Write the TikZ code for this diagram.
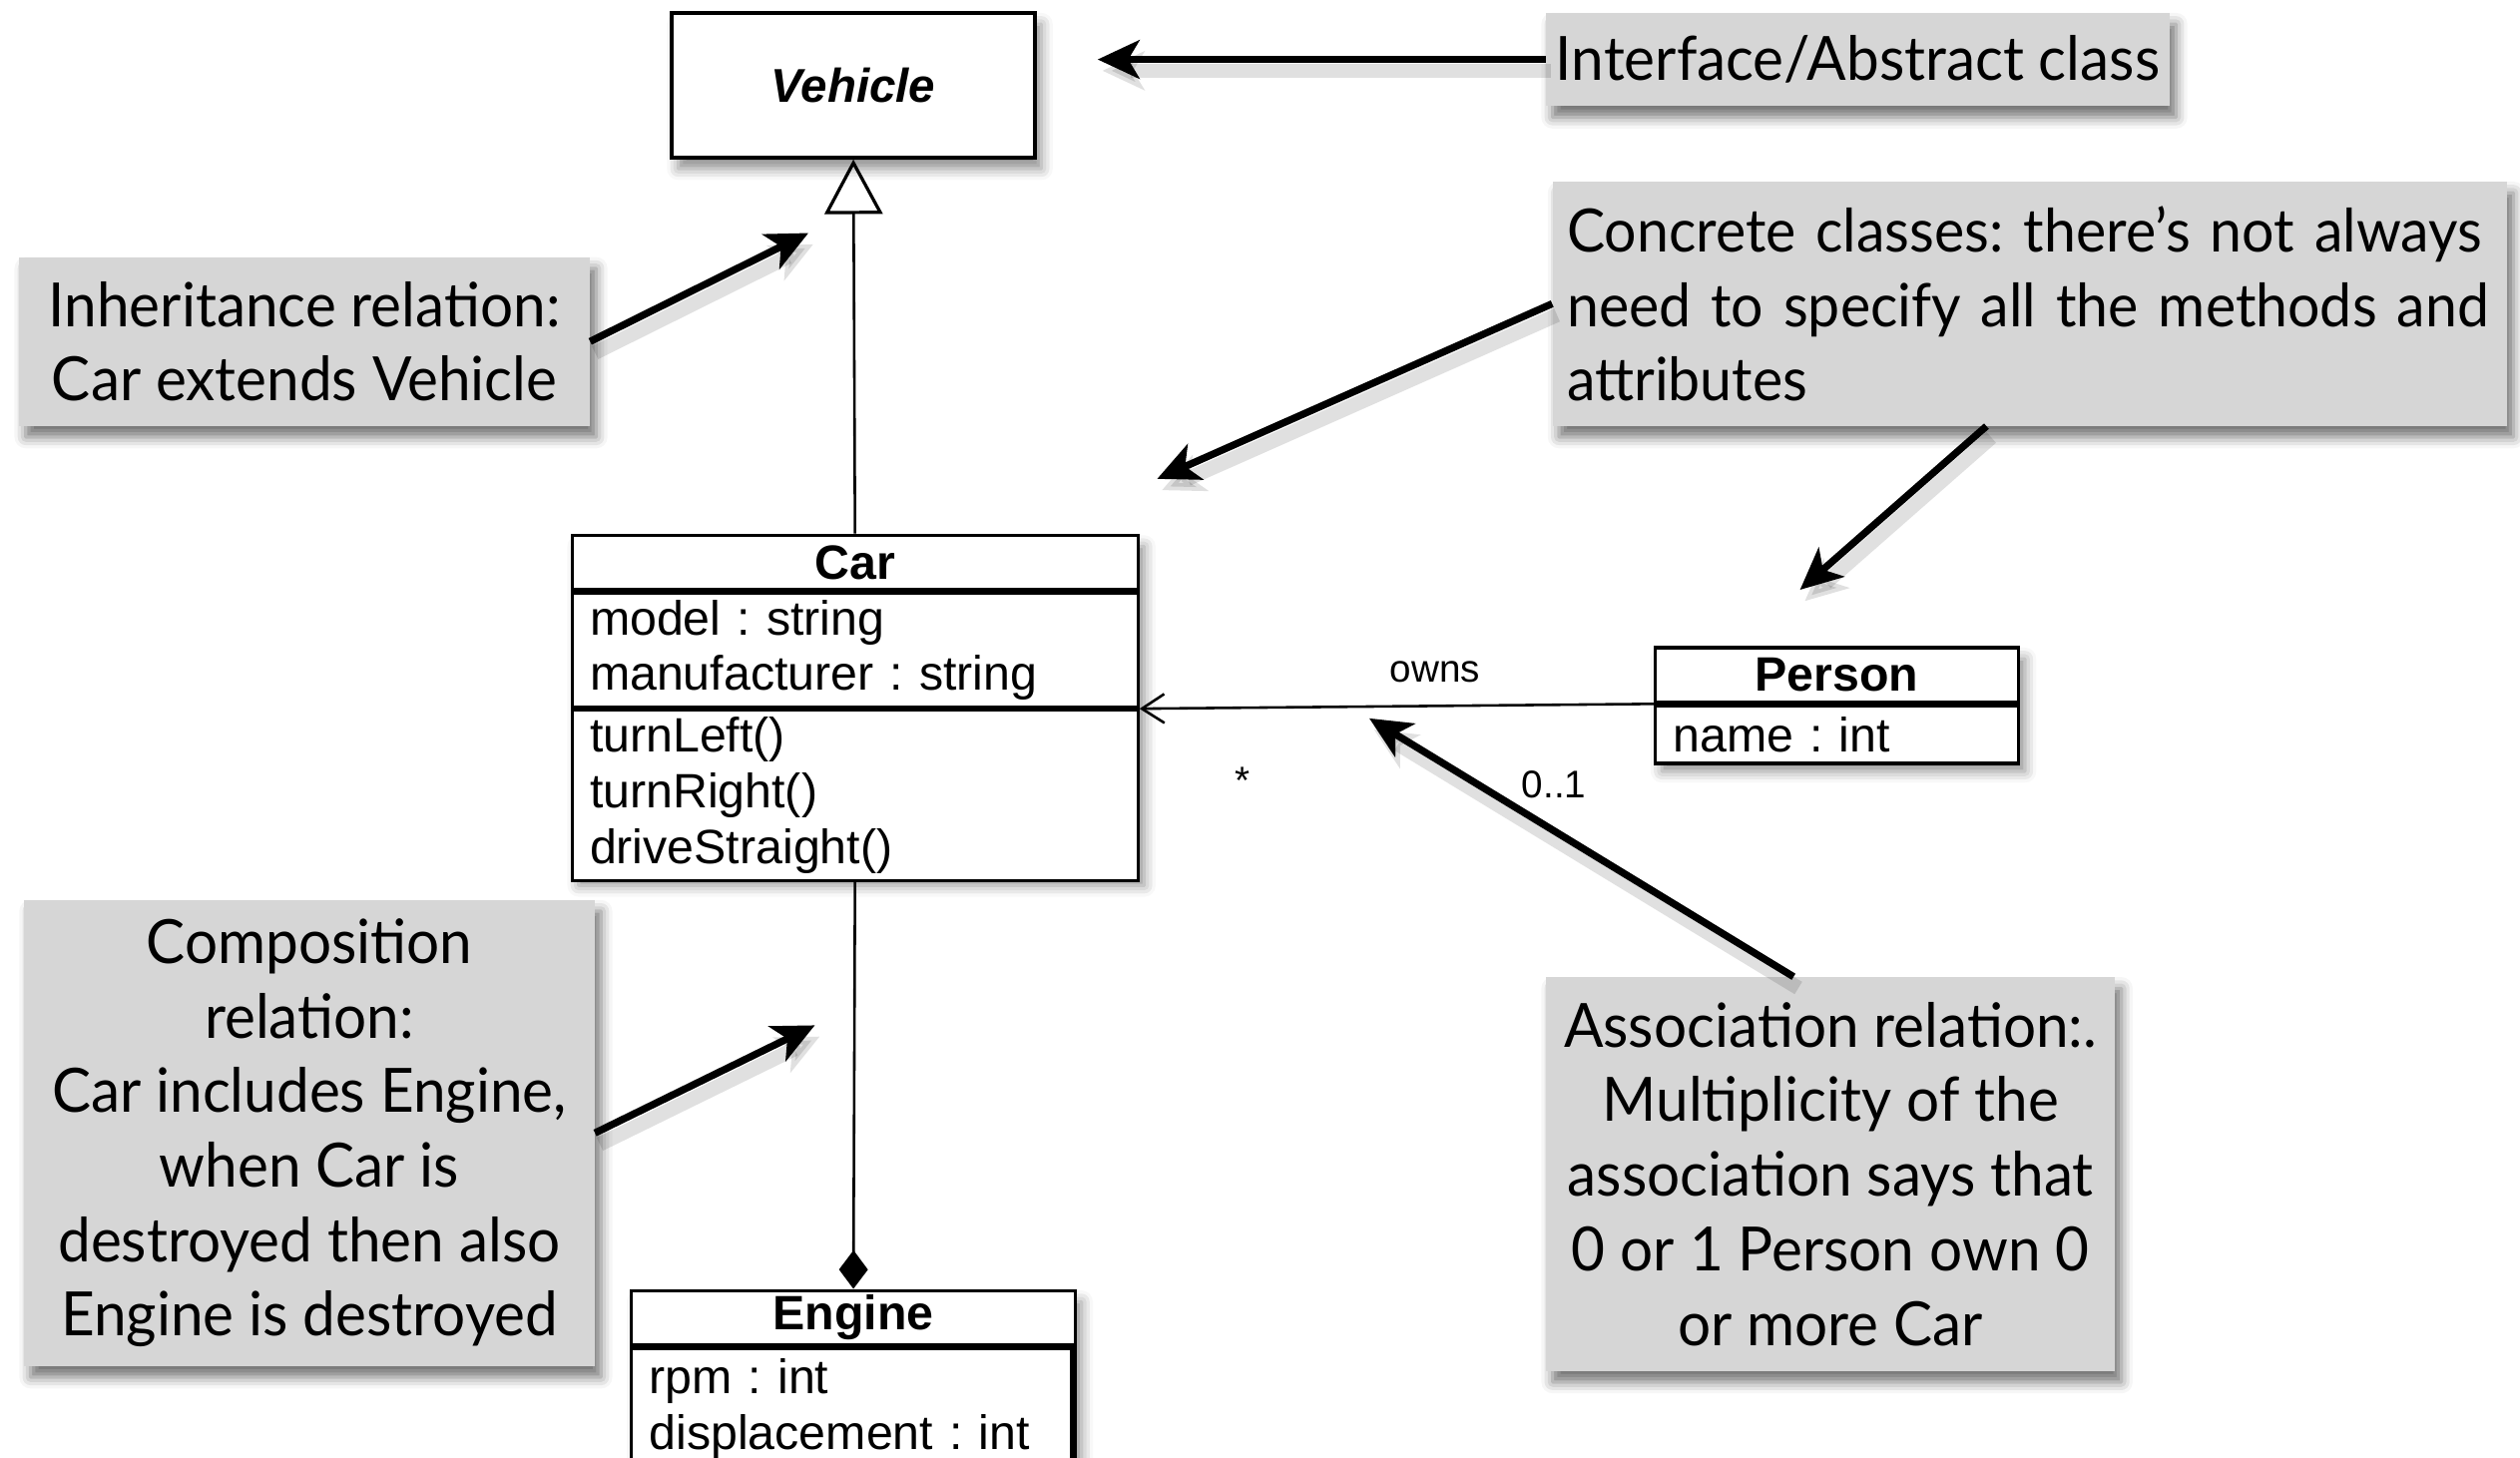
\documentclass[tikz,border=0pt]{standalone}
\usepackage{fontspec}
\newfontfamily\notefont[FakeStretch=0.955]{Lato}
\newfontfamily\umlfont{Liberation Sans}
\usetikzlibrary{arrows.meta, shadows.blur}
\definecolor{notegray}{RGB}{214,214,214}
\tikzset{
  note/.style={fill=notegray, blur shadow={shadow xshift=4pt, shadow yshift=-7pt, shadow blur radius=7pt, shadow opacity=55}, inner sep=0pt, font=\notefont\fontsize{38}{46.4}\selectfont, align=center},
  umlbox/.style={draw, line width=2pt, fill=white, blur shadow={shadow xshift=4pt, shadow yshift=-7pt, shadow blur radius=7pt, shadow opacity=45}, inner sep=0pt},
  part/.style={draw, line width=2pt, fill=white, inner xsep=11pt, inner ysep=0pt, font=\umlfont\fontsize{30}{34.6}\selectfont},
  callout/.style={line width=4.5pt, -{Stealth[length=26pt, width=24pt, inset=7pt]},
    preaction={draw=black, opacity=0.12, line width=9pt, transform canvas={shift={(3pt,-7pt)}}}},
  umlline/.style={line width=1.6pt},
  lbl/.style={font=\umlfont\fontsize{24}{28}\selectfont, inner sep=0pt}
}
\begin{document}
\frenchspacing
\begin{tikzpicture}[x=1pt, y=-1pt]
\useasboundingbox (0,0) rectangle (1568,907);

% Vehicle
\node[umlbox, line width=2.4pt, minimum width=226pt, minimum height=90pt,
  font=\umlfont\bfseries\itshape\fontsize{29.5}{34}\selectfont] (veh) at (531,53) {Vehicle};

% Car
\node[umlbox, minimum width=352pt, minimum height=211pt, anchor=north west] (car) at (355,332) {};
\node[part, minimum width=352pt, minimum height=34pt, anchor=north west, font=\umlfont\bfseries\fontsize{30}{35}\selectfont] (carname) at (car.north west) {Car};
\node[part, text width=330pt, minimum height=71pt, align=left, anchor=north west] (carattr) at (carname.south west) {model : string\\manufacturer : string};
\node[part, text width=330pt, minimum height=106pt, align=left, anchor=north west] (carops) at (carattr.south west) {turnLeft()\\turnRight()\\driveStraight()};

% Person
\node[umlbox, minimum width=226pt, minimum height=70pt, anchor=north west] (person) at (1029,402) {};
\node[part, minimum width=226pt, minimum height=34pt, anchor=north west, font=\umlfont\bfseries\fontsize{30}{35}\selectfont] (pname) at (person.north west) {Person};
\node[part, text width=204pt, minimum height=36pt, align=left, anchor=north west] (pattr) at (pname.south west) {name : int};

% Engine
\node[umlbox, minimum width=276pt, minimum height=110pt, anchor=north west] (engine) at (392,802) {};
\node[part, minimum width=276pt, minimum height=34pt, anchor=north west, font=\umlfont\bfseries\fontsize{30}{35}\selectfont] (ename) at (engine.north west) {Engine};
\node[part, text width=252pt, minimum height=76pt, align=left, anchor=north west] (eattr) at (ename.south west) {rpm : int\\displacement : int};

% UML connectors
\draw[umlline, -{Triangle[open, length=34pt, width=36pt, line width=2pt]}] (carname.north) -- (veh.south);
\draw[umlline, -{Diamond[length=24pt, width=18pt]}] (carops.south) -- (ename.north);
\draw[umlline, -{Straight Barb[length=14pt, width=18pt, line width=1.6pt]}] (pname.south west) -- (carattr.south east);
\node[lbl] (owns) at (893,418) {owns};
\node[lbl] (mcar) at (773,486) {*};
\node[lbl] (mperson) at (967,488) {0..1};

% Notes
\node[note, minimum width=388pt, minimum height=58pt] (iface) at (1156,37) {Interface/Abstract class};
\node[note, minimum width=355pt, minimum height=105pt] (inh) at (189.5,212.5) {Inheritance relation:\\Car extends Vehicle};
\node[note, text width=576pt, inner xsep=9pt, minimum height=152pt, align=left, font=\notefont\fontsize{37.2}{46.4}\selectfont] (conc) at (1263,189) {\mbox{Concrete classes: there’s not always}\\\mbox{need to specify all the methods and}\\\mbox{attributes}};
\node[note, minimum width=355pt, minimum height=290pt] (comp) at (192.5,705) {Composition\\relation:\\Car includes Engine,\\when Car is\\destroyed then also\\Engine is destroyed};
\node[note, minimum width=354pt, minimum height=245pt] (assoc) at (1139,730.5) {Association relation:.\\Multiplicity of the\\association says that\\0 or 1 Person own 0\\or more Car};

% Callout targets
\coordinate (tveh) at (683,37);
\coordinate (tinh) at (503,145);
\coordinate (tcar) at (720,298);
\coordinate (tperson) at (1120,367);
\coordinate (tcomp) at (507,638);
\coordinate (tassoc) at (852,447);

\draw[callout] (iface.west) -- (tveh);
\draw[callout] (inh.east) -- (tinh);
\draw[callout] (conc.west) -- (tcar);
\draw[callout] ([xshift=-27pt]conc.south) -- (tperson);
\draw[callout] (comp.east) -- (tcomp);
\draw[callout] ([xshift=-23pt]assoc.north) -- (tassoc);
\end{tikzpicture}
\end{document}
